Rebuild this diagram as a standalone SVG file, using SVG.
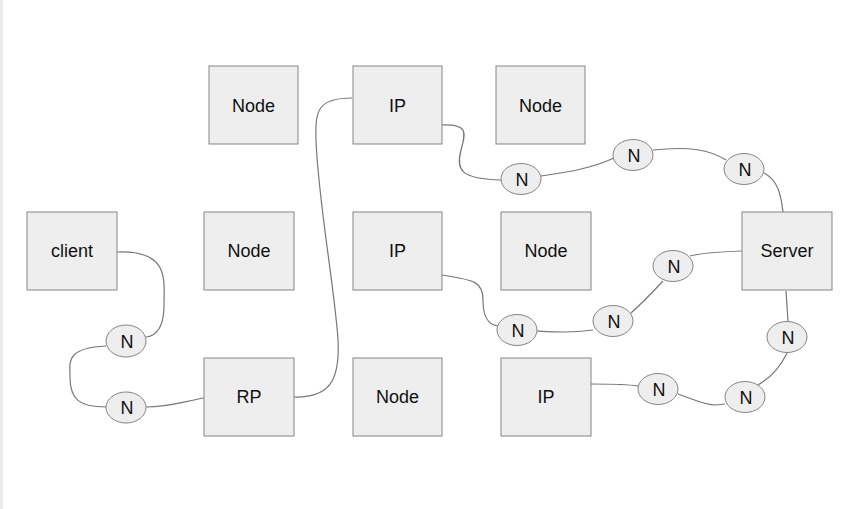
<svg xmlns="http://www.w3.org/2000/svg" width="848" height="509" viewBox="0 0 848 509">
<style>
.box{fill:#eeeeee;stroke:#858585;stroke-width:1}
.el{fill:#eeeeee;stroke:#858585;stroke-width:1}
.lbl{font-family:"Liberation Sans",Arial,sans-serif;font-size:18px;fill:#111;text-anchor:middle;dominant-baseline:central}
.c{fill:none;stroke:#777;stroke-width:1.2}
</style>
<rect x="0" y="0" width="848" height="509" fill="#ffffff"/>
<rect x="0" y="0" width="3" height="509" fill="#ebebeb"/>
<g id="connectors">
<path class="c" d="M117,252 C170,250 164,280 164,305 C164,330 155,336 146,337"/>
<path class="c" d="M106,346 C65,348 70,362 70,377 C70,400 80,407 106,407"/>
<path class="c" d="M146,407 C170,407 185,401 204,398"/>
<path class="c" d="M294,397 C330,398 340,380 338,340 C335,290 318,200 316,140 C315,110 318,98 352,98"/>
<path class="c" d="M442,125 C468,124 466,132 461,150 C456,170 460,179 502,180"/>
<path class="c" d="M541,176 C570,172 592,168 614,158"/>
<path class="c" d="M653,150 C690,146 710,150 726,160"/>
<path class="c" d="M764,173 C778,180 781,195 783,212"/>
<path class="c" d="M742,251 C715,252 700,253 690,256"/>
<path class="c" d="M663,281 C650,295 640,305 631,313"/>
<path class="c" d="M593,330 C570,333 555,332 537,331"/>
<path class="c" d="M442,275 C475,280 483,282 483,300 C483,320 490,325 498,326"/>
<path class="c" d="M786,291 L788,321"/>
<path class="c" d="M787,353 C780,368 770,378 758,385"/>
<path class="c" d="M591,384 C612,384 625,384 638,386"/>
<path class="c" d="M678,394 C695,400 705,405 716,405 L725,404"/>
</g>
<g id="node-r1-1"><rect class="box" x="209" y="66" width="89" height="78"/><text class="lbl" x="253.5" y="106">Node</text></g>
<g id="ip-1"><rect class="box" x="353" y="66" width="89" height="78"/><text class="lbl" x="397.5" y="106">IP</text></g>
<g id="node-r1-3"><rect class="box" x="496" y="66" width="89" height="78"/><text class="lbl" x="540.5" y="106">Node</text></g>
<g id="client"><rect class="box" x="27" y="212" width="90" height="78"/><text class="lbl" x="72" y="251">client</text></g>
<g id="node-r2-1"><rect class="box" x="204" y="212" width="90" height="78"/><text class="lbl" x="249" y="251">Node</text></g>
<g id="ip-2"><rect class="box" x="353" y="212" width="89" height="78"/><text class="lbl" x="397.5" y="251">IP</text></g>
<g id="node-r2-3"><rect class="box" x="501" y="212" width="90" height="78"/><text class="lbl" x="546" y="251">Node</text></g>
<g id="server"><rect class="box" x="742" y="212" width="90" height="78"/><text class="lbl" x="787" y="251">Server</text></g>
<g id="rp"><rect class="box" x="204" y="358" width="90" height="78"/><text class="lbl" x="249" y="397">RP</text></g>
<g id="node-r3-2"><rect class="box" x="353" y="358" width="89" height="78"/><text class="lbl" x="397.5" y="397">Node</text></g>
<g id="ip-3"><rect class="box" x="501" y="358" width="90" height="78"/><text class="lbl" x="546" y="397">IP</text></g>
<g id="n1"><ellipse class="el" cx="126" cy="341" rx="20" ry="16"/><text class="lbl" x="127" y="342">N</text></g>
<g id="n2"><ellipse class="el" cx="126" cy="407.5" rx="20" ry="15.5"/><text class="lbl" x="127" y="408">N</text></g>
<g id="n3"><ellipse class="el" cx="521" cy="179" rx="20" ry="15.5"/><text class="lbl" x="522" y="180">N</text></g>
<g id="n4"><ellipse class="el" cx="633" cy="155" rx="20" ry="15.5"/><text class="lbl" x="634" y="156">N</text></g>
<g id="n5"><ellipse class="el" cx="744" cy="169" rx="20" ry="15.5"/><text class="lbl" x="745" y="170">N</text></g>
<g id="n6"><ellipse class="el" cx="673" cy="266" rx="20" ry="15.5"/><text class="lbl" x="674" y="267">N</text></g>
<g id="n7"><ellipse class="el" cx="517" cy="330" rx="20" ry="15.5"/><text class="lbl" x="518" y="331">N</text></g>
<g id="n8"><ellipse class="el" cx="613" cy="321" rx="20" ry="15.5"/><text class="lbl" x="614" y="322">N</text></g>
<g id="n9"><ellipse class="el" cx="787" cy="337" rx="20" ry="15.5"/><text class="lbl" x="788" y="338">N</text></g>
<g id="n10"><ellipse class="el" cx="658" cy="389" rx="20" ry="15.5"/><text class="lbl" x="659" y="390">N</text></g>
<g id="n11"><ellipse class="el" cx="745" cy="397" rx="20" ry="15.5"/><text class="lbl" x="746" y="398">N</text></g>
</svg>
